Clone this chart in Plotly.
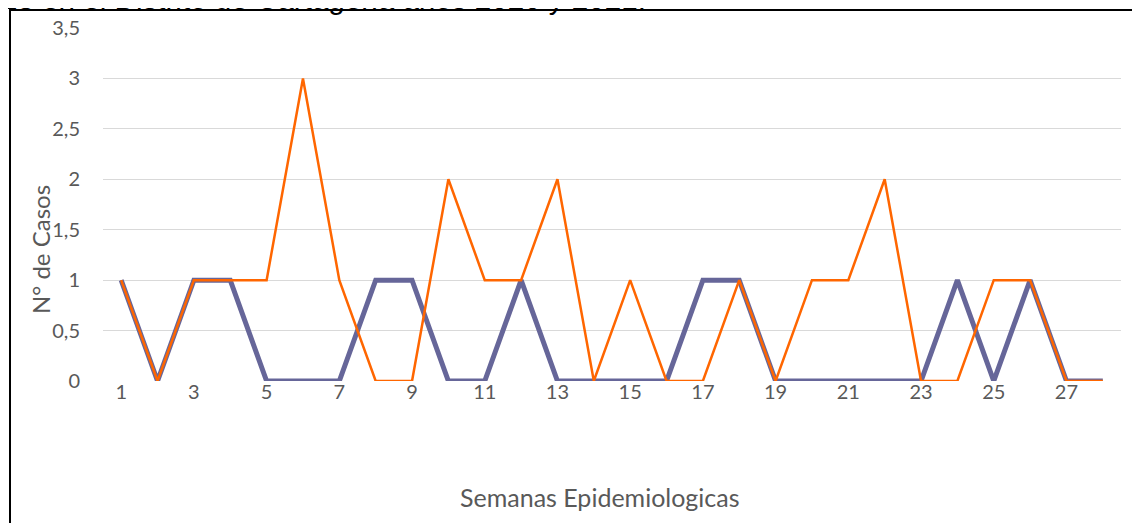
import plotly.graph_objects as go

semanas = list(range(1, 29))
serie_2020 = [1, 0, 1, 1, 0, 0, 0, 1, 1, 0, 0, 1, 0, 0, 0, 0, 1, 1, 0, 0, 0, 0, 0, 1, 0, 1, 0, 0]
serie_2021 = [1, 0, 1, 1, 1, 3, 1, 0, 0, 2, 1, 1, 2, 0, 1, 0, 0, 1, 0, 1, 1, 2, 0, 0, 1, 1, 0, 0]
x_ticks = list(range(1, 29, 2))
y_ticks = [0, 0.5, 1, 1.5, 2, 2.5, 3, 3.5]
titulo = "28 en el Distrito de Cartagena años 2020 y 2021."
titulo_x = "Semanas Epidemiologicas"
titulo_y = "N° de Casos"

fig = go.Figure()
fig.add_trace(go.Scatter(x=semanas, y=serie_2020, mode="lines", name="2020",
                         line=dict(color="#666699", width=5)))
fig.add_trace(go.Scatter(x=semanas, y=serie_2021, mode="lines", name="2021",
                         line=dict(color="#FF6600", width=2.5)))

OFF = 8  # page body margin
W, H = 1140 - OFF, 523 - OFF
# plot area in screen pixels
SL, SR, ST, SB = 103, 1121, 28, 381
L, R, T, B = SL - OFF, SR - OFF, ST - OFF, SB - OFF
fig.update_layout(
    width=W, height=H, autosize=False,
    margin=dict(l=L, r=W - R, t=T, b=H - B, pad=0, autoexpand=False),
    paper_bgcolor="white", plot_bgcolor="white",
    showlegend=False,
    separators=",.",
    font=dict(family="Lato, Open Sans, sans-serif", size=20, color="#595959"),
)
fig.update_xaxes(range=[0.5, 28.5], tickvals=x_ticks, showgrid=False, zeroline=False,
                 showline=False, ticks="", ticklabelstandoff=-3, automargin=False,
                 tickfont=dict(size=20, color="#595959"))
fig.update_yaxes(range=[0, 3.5], tickvals=y_ticks, showgrid=True, gridcolor="#D9D9D9",
                 gridwidth=1, zeroline=False, showline=False, ticks="", automargin=False,
                 ticklabelstandoff=22, tickfont=dict(size=20, color="#595959"))

pw, ph = SR - SL, SB - ST
def px(x):
    return (x - SL) / pw
def py(y):
    return (SB - y) / ph

fig.add_annotation(text=titulo_x, xref="paper", yref="paper", x=px(600), y=py(497),
                   showarrow=False, font=dict(size=25, color="#595959"),
                   xanchor="center", yanchor="middle")
fig.add_annotation(text=titulo_y, xref="paper", yref="paper", x=px(40), y=py(250),
                   showarrow=False, textangle=-90, font=dict(size=24, color="#595959"),
                   xanchor="center", yanchor="middle")
fig.add_annotation(text=titulo, xref="paper", yref="paper", x=px(-1), y=py(-1),
                   showarrow=False, font=dict(family="Liberation Sans, Arial", size=29.6, color="black"),
                   xanchor="left", yanchor="middle")
fig.add_shape(type="rect", xref="paper", yref="paper", x0=px(10), y0=py(540), x1=px(1160), y1=py(10),
              line=dict(color="black", width=2), fillcolor="rgba(0,0,0,0)", layer="above")

fig.write_html("out.html")
